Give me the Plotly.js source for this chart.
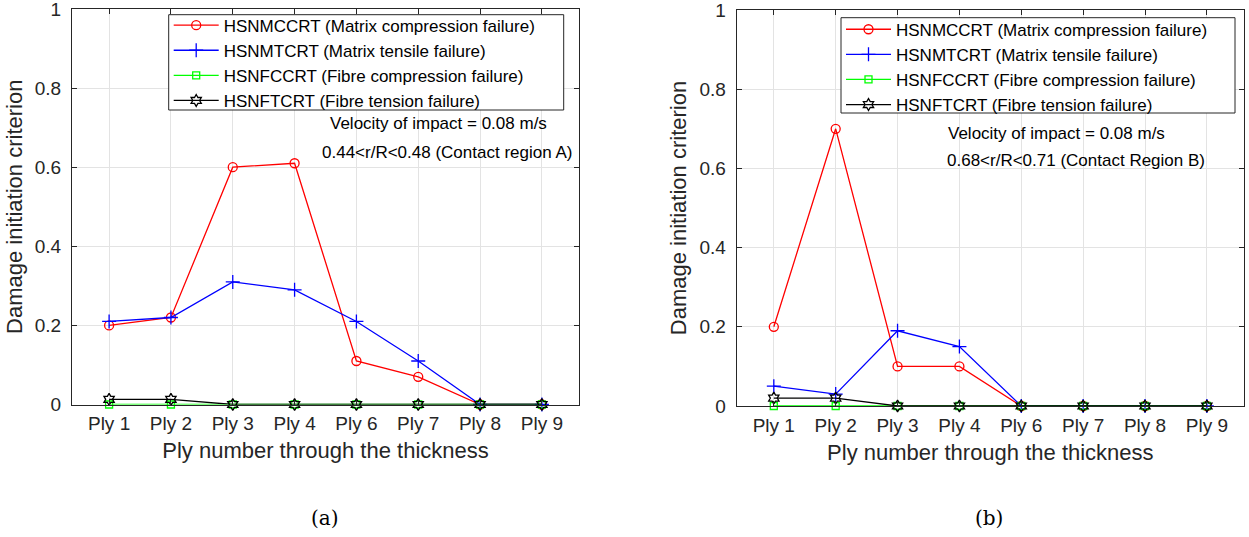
<!DOCTYPE html>
<html>
<head>
<meta charset="utf-8">
<script src="https://cdn.plot.ly/plotly-3.0.1.min.js"></script>
<style>
  html, body { margin: 0; padding: 0; background: #ffffff; }
  #chart { width: 1249px; height: 537px; }
</style>
</head>
<body>
<div id="chart"></div>
<script>
// ---- data ----
const plyLabels = ['Ply 1', 'Ply 2', 'Ply 3', 'Ply 4', 'Ply 6', 'Ply 7', 'Ply 8', 'Ply 9'];
const seriesNames = [
  'HSNMCCRT (Matrix compression failure)',
  'HSNMTCRT (Matrix tensile failure)',
  'HSNFCCRT (Fibre compression failure)',
  'HSNFTCRT (Fibre tension failure)'
];

// Panel (a): contact region A
const a_HSNMCCRT = [0.20, 0.22, 0.60, 0.61, 0.11, 0.07, 0, 0];
const a_HSNMTCRT = [0.21, 0.22, 0.31, 0.29, 0.21, 0.11, 0, 0];
const a_HSNFCCRT = [0, 0, 0, 0, 0, 0, 0, 0];
const a_HSNFTCRT = [0.013, 0.013, 0, 0, 0, 0, 0, 0];

// Panel (b): contact region B
const b_HSNMCCRT = [0.20, 0.70, 0.10, 0.10, 0, 0, 0, 0];
const b_HSNMTCRT = [0.05, 0.03, 0.19, 0.15, 0, 0, 0, 0];
const b_HSNFCCRT = [0, 0, 0, 0, 0, 0, 0, 0];
const b_HSNFTCRT = [0.02, 0.02, 0, 0, 0, 0, 0, 0];

const yTickVals = [0, 0.2, 0.4, 0.6, 0.8, 1];
const yTickText = ['0', '0.2', '0.4', '0.6', '0.8', '1'];
const annotA = ['Velocity of impact = 0.08 m/s', '0.44<r/R<0.48 (Contact region A)'];
const annotB = ['Velocity of impact = 0.08 m/s', '0.68<r/R<0.71 (Contact Region B)'];
const xTitle = 'Ply number through the thickness';
const yTitle = 'Damage initiation criterion';
const captions = ['(a)', '(b)'];

// ---- styles ----
const W = 1249, H = 537;
const styles = [
  {color: '#ff0000', symbol: 'circle-open', size: 9},
  {color: '#0000ff', symbol: 'cross-thin-open', size: 10},
  {color: '#00ff00', symbol: 'square-open', size: 7},
  {color: '#000000', symbol: 'hexagram-open', size: 9}
];

function makeTraces(vals, xa, ya, legendId) {
  return vals.map((v, i) => ({
    type: 'scatter',
    mode: 'lines+markers',
    x: plyLabels,
    y: v,
    xaxis: xa,
    yaxis: ya,
    name: seriesNames[i],
    legend: legendId,
    line: {color: styles[i].color, width: 1.3},
    marker: {symbol: styles[i].symbol, size: styles[i].size, color: styles[i].color,
             line: {color: styles[i].color, width: 1.3}},
    cliponaxis: false
  }));
}

const traces = [].concat(
  makeTraces([a_HSNMCCRT, a_HSNMTCRT, a_HSNFCCRT, a_HSNFTCRT], 'x', 'y', 'legend'),
  makeTraces([b_HSNMCCRT, b_HSNMTCRT, b_HSNFCCRT, b_HSNFTCRT], 'x2', 'y2', 'legend2')
);

const axisFont = {family: 'Liberation Sans, Arial, sans-serif', size: 19, color: '#262626'};
const titleFont = {family: 'Liberation Sans, Arial, sans-serif', size: 22, color: '#262626'};

function xAxis(domain, anchor) {
  return {
    domain: domain, anchor: anchor, type: 'category',
    categoryorder: 'array', categoryarray: plyLabels,
    range: [-0.6, 7.6],
    showline: true, linecolor: '#262626', linewidth: 1, mirror: 'ticks',
    ticks: 'inside', ticklen: 5, tickcolor: '#262626', tickwidth: 1,
    showgrid: true, gridcolor: '#e3e3e3', gridwidth: 1,
    zeroline: false, tickfont: axisFont, ticklabelstandoff: 2,
    ticklabeloverflow: 'allow',
    title: {text: xTitle, font: titleFont, standoff: 9},
    automargin: false, fixedrange: true
  };
}
function yAxis(domain, anchor) {
  return {
    domain: domain, anchor: anchor,
    range: [0, 1], tickvals: yTickVals, ticktext: yTickText,
    showline: true, linecolor: '#262626', linewidth: 1, mirror: 'ticks',
    ticks: 'inside', ticklen: 5, tickcolor: '#262626', tickwidth: 1,
    showgrid: true, gridcolor: '#e3e3e3', gridwidth: 1,
    zeroline: false, tickfont: axisFont, ticklabelstandoff: 6,
    ticklabeloverflow: 'allow',
    title: {text: yTitle, font: titleFont, standoff: 6},
    automargin: false, fixedrange: true
  };
}

const px = v => v / W;
const py = v => (H - v) / H;

const legendBase = {
  bgcolor: 'rgba(0,0,0,0)', borderwidth: 0,
  font: {family: 'Liberation Sans, Arial, sans-serif', size: 17, color: '#000000'},
  xanchor: 'left', yanchor: 'top', itemwidth: 45, tracegroupgap: 0,
  itemclick: false, itemdoubleclick: false
};

const annFont = {family: 'Liberation Sans, Arial, sans-serif', size: 17, color: '#000000'};
const capFont = {family: 'DejaVu Serif, Liberation Serif, serif', size: 20, color: '#000000'};

function legendBox(x0, y0, x1, y1) {
  return {type: 'rect', xref: 'paper', yref: 'paper', layer: 'above',
          x0: px(x0), x1: px(x1), y0: py(y1), y1: py(y0),
          fillcolor: '#ffffff', line: {color: '#262626', width: 1}};
}

const layout = {
  width: W, height: H,
  margin: {l: 0, r: 0, t: 0, b: 0},
  paper_bgcolor: '#ffffff', plot_bgcolor: '#ffffff',
  showlegend: true,
  xaxis: xAxis([px(72), px(579)], 'y'),
  yaxis: yAxis([py(404.5), py(9)], 'x'),
  xaxis2: xAxis([px(736.7), px(1244)], 'y2'),
  yaxis2: yAxis([py(406), py(10)], 'x2'),
  legend: Object.assign({}, legendBase, {x: px(168.7), y: py(7.6)}),
  legend2: Object.assign({}, legendBase, {x: px(841), y: py(11.7)}),
  shapes: [legendBox(168.7, 14.7, 563.7, 110), legendBox(841, 17.7, 1235, 113)],
  annotations: [
    {xref: 'paper', yref: 'paper', x: px(328), y: py(124), xanchor: 'left', yanchor: 'middle',
     text: annotA[0], showarrow: false, font: annFont},
    {xref: 'paper', yref: 'paper', x: px(320), y: py(152), xanchor: 'left', yanchor: 'middle',
     text: annotA[1], showarrow: false, font: annFont},
    {xref: 'paper', yref: 'paper', x: px(946), y: py(133), xanchor: 'left', yanchor: 'middle',
     text: annotB[0], showarrow: false, font: annFont},
    {xref: 'paper', yref: 'paper', x: px(945), y: py(161), xanchor: 'left', yanchor: 'middle',
     text: annotB[1], showarrow: false, font: annFont},
    {xref: 'paper', yref: 'paper', x: px(325), y: py(518), xanchor: 'center', yanchor: 'middle',
     text: captions[0], showarrow: false, font: capFont},
    {xref: 'paper', yref: 'paper', x: px(989), y: py(518), xanchor: 'center', yanchor: 'middle',
     text: captions[1], showarrow: false, font: capFont}
  ]
};

Plotly.newPlot('chart', traces, layout, {displayModeBar: false, staticPlot: true});
</script>
</body>
</html>
